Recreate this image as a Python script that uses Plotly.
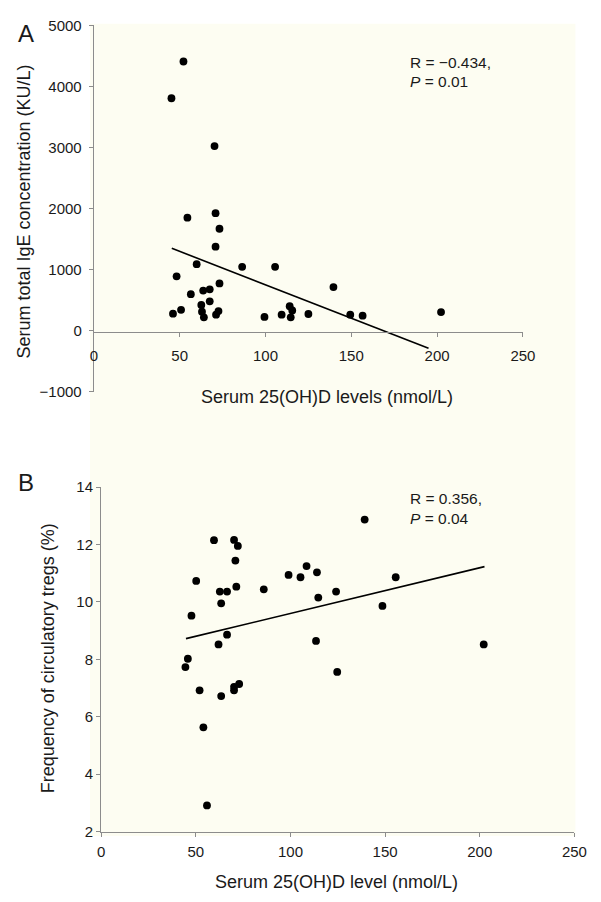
import plotly.graph_objects as go

W, H = 601, 902

# ---------------- Panel A data ----------------
a_vitd = [46.1, 48.2, 50.8, 54.5, 56.5, 59.9, 62.6, 63.0, 63.7, 64.1, 67.5, 67.5,
          70.9, 70.9, 71.2, 72.6, 73.2, 73.2, 86.4, 99.4, 105.6, 109.4, 114.1, 114.7,
          115.6, 125.0, 139.6, 149.4, 156.6, 202.3, 45.2, 52.2, 70.3]
a_ige = [277, 890, 341, 1850, 597, 1088, 421, 309, 656, 218, 677, 480,
         1925, 1376, 261, 320, 1669, 773, 1045, 224, 1045, 261, 400, 218,
         330, 272, 714, 261, 245, 304, 3808, 4410, 3024]
a_trend_x = [45.4, 195.0]
a_trend_y = [1349, -288]
a_xticks = [0, 50, 100, 150, 200, 250]
a_yticks = [-1000, 0, 1000, 2000, 3000, 4000, 5000]

# ---------------- Panel B data ----------------
b_vitd = [59.6, 70.2, 72.2, 70.9, 50.2, 47.7, 62.7, 66.5, 71.4, 63.4, 85.9, 99.0,
          62.0, 66.5, 45.8, 44.5, 105.3, 108.5, 114.0, 114.7, 124.1, 155.6, 148.6,
          113.5, 124.7, 52.0, 63.4, 70.2, 70.2, 72.9, 54.0, 55.9, 139.2, 202.1]
b_treg = [12.15, 12.16, 11.95, 11.44, 10.73, 9.52, 10.36, 10.36, 10.53, 9.95, 10.44, 10.94,
          8.52, 8.86, 8.02, 7.73, 10.86, 11.25, 11.03, 10.15, 10.36, 10.86, 9.86,
          8.64, 7.56, 6.92, 6.72, 7.04, 6.92, 7.14, 5.63, 2.91, 12.87, 8.52]
b_trend_x = [44.8, 202.5]
b_trend_y = [8.72, 11.23]
b_xticks = [0, 50, 100, 150, 200, 250]
b_yticks = [2, 4, 6, 8, 10, 12, 14]


def px(x):
    return x / W


def py(y):
    return 1 - y / H


FONT = "Liberation Sans, Arial, Helvetica, sans-serif"
AXC = "#8c8c8c"
TXT = "#1a1a1a"

fig = go.Figure()

marker = dict(color="black", size=7.8)
fig.add_trace(go.Scatter(x=a_vitd, y=a_ige, mode="markers", marker=marker,
                         xaxis="x", yaxis="y", showlegend=False))
fig.add_trace(go.Scatter(x=a_trend_x, y=a_trend_y, mode="lines",
                         line=dict(color="black", width=1.6),
                         xaxis="x", yaxis="y", showlegend=False))
fig.add_trace(go.Scatter(x=b_vitd, y=b_treg, mode="markers", marker=marker,
                         xaxis="x2", yaxis="y2", showlegend=False))
fig.add_trace(go.Scatter(x=b_trend_x, y=b_trend_y, mode="lines",
                         line=dict(color="black", width=1.6),
                         xaxis="x2", yaxis="y2", showlegend=False))

axis_common = dict(showline=True, linecolor=AXC, linewidth=1.3, ticks="outside",
                   ticklen=4, tickcolor=AXC, tickwidth=1.3, showgrid=False,
                   zeroline=False, tickfont=dict(family=FONT, size=15, color=TXT))

fig.update_layout(
    width=W, height=H, autosize=False,
    margin=dict(l=0, r=0, t=0, b=0),
    paper_bgcolor="white", plot_bgcolor="rgba(0,0,0,0)",
    font=dict(family=FONT, color=TXT),
    xaxis=dict(domain=[px(92.5), px(534)], range=[0, 250], tickvals=a_xticks,
               anchor="free", position=py(329.3), ticklabelstandoff=6, **axis_common),
    yaxis=dict(domain=[py(390), py(16.8)], range=[-1000, 5000], tickvals=a_yticks,
               anchor="x", ticklabelstandoff=4, **axis_common),
    xaxis2=dict(domain=[px(100), px(587)], range=[0, 250], tickvals=b_xticks,
                anchor="y2", ticklabelstandoff=2, **axis_common),
    yaxis2=dict(domain=[py(838.3), py(487.3)], range=[2, 14], tickvals=b_yticks,
                anchor="x2", ticklabelstandoff=0, **axis_common),
    shapes=[dict(type="rect", xref="paper", yref="paper", layer="below",
                 x0=px(88.5), x1=px(588), y0=py(843), y1=py(15),
                 fillcolor="#fdfdf2", line=dict(width=0))],
)

ann = []


def add_text(text, x, y, size, xanchor="center", angle=0):
    ann.append(dict(text=text, x=px(x), y=py(y), xref="paper", yref="paper",
                    showarrow=False, xanchor=xanchor, yanchor="middle",
                    textangle=angle, font=dict(family=FONT, size=size, color=TXT)))


add_text("A", 23, 25, 24)
add_text("B", 23, 483, 24)
add_text("Serum total IgE concentration (KU/L)", 21, 206, 18, angle=-90)
add_text("Frequency of circulatory tregs (%)", 45, 662, 18, angle=-90)
add_text("Serum 25(OH)D levels (nmol/L)", 332, 395, 18)
add_text("Serum 25(OH)D level (nmol/L)", 342, 890, 18)
add_text("R = \u22120.434,", 416, 55, 15.5, xanchor="left")
add_text("<i>P</i> = 0.01", 416, 74, 15.5, xanchor="left")
add_text("R = 0.356,", 416, 499, 15.5, xanchor="left")
add_text("<i>P</i> = 0.04", 416, 519, 15.5, xanchor="left")

fig.update_layout(annotations=ann)

fig.write_html(
    "out.html",
    config={"displayModeBar": False},
    post_script="document.body.style.margin='0';document.body.style.overflow='hidden';",
)
